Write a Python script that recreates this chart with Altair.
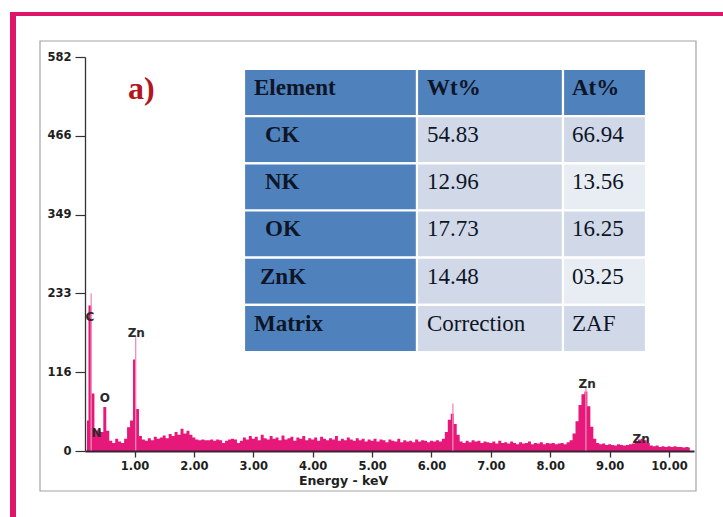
import altair as alt
import pandas as pd

# ---------------------------------------------------------------- spectrum data
# Counts per 0.05 keV channel, first channel at 0.20 keV
START_KEV = 0.20
STEP_KEV = 0.05
counts_0 = [45, 215, 85, 30, 32, 28, 65, 30, 15, 12, 18, 14, 12, 18, 35, 45]          # 0.20-0.95
counts_1 = [135, 62, 22, 17, 15, 19, 16, 21, 18, 20, 23, 19, 25, 22, 28, 24, 33, 26, 30, 24]
counts_2 = [20, 17, 16, 17, 16, 16, 17, 15, 17, 16, 12, 15, 17, 18, 17, 12, 15, 20, 17, 22]
counts_3 = [18, 21, 16, 24, 19, 17, 22, 18, 20, 16, 23, 17, 19, 21, 15, 20, 18, 22, 16, 19]
counts_4 = [17, 20, 15, 21, 18, 16, 19, 17, 22, 15, 18, 16, 20, 17, 15, 19, 16, 18, 14, 17]
counts_5 = [15, 18, 14, 17, 16, 13, 17, 15, 14, 18, 13, 16, 14, 15, 13, 17, 14, 16, 15, 13]
counts_6 = [15, 14, 16, 14, 18, 28, 46, 55, 40, 24, 14, 12, 15, 13, 16, 14, 15, 12, 14, 13]
counts_7 = [12, 14, 11, 15, 12, 13, 11, 14, 12, 10, 13, 11, 12, 14, 10, 12, 11, 13, 10, 12]
counts_8 = [11, 12, 10, 11, 12, 10, 13, 16, 26, 44, 68, 84, 88, 66, 36, 18, 12, 10, 11, 9]
counts_9 = [10, 9, 8, 10, 9, 8, 9, 10, 11, 14, 17, 18, 16, 12, 8, 7, 8, 6, 7, 6]
counts_10 = [7, 6, 7, 6, 6, 5, 6, 5]                                                      # 10.00-10.35

# narrow peak maxima drawn as thin lines above the channel envelope
spike_kev = [0.27, 1.02, 6.36, 8.60]
spike_top = [233, 168, 70, 93]

# peak identifications
peak_names = ["C", "N", "O", "Zn", "Zn", "Zn"]
peak_kev = [0.25, 0.36, 0.50, 1.03, 8.62, 9.53]
peak_y = [198, 27, 78, 174, 99, 18]

# axes
y_ticks = [0, 116, 233, 349, 466, 582]
x_ticks = [1, 2, 3, 4, 5, 6, 7, 8, 9, 10]

# ---------------------------------------------------------------- table data
table_header = ["Element", "Wt%", "At%"]
elements = ["CK", "NK", "OK", "ZnK", "Matrix"]
wt_pct = ["54.83", "12.96", "17.73", "14.48", "Correction"]
at_pct = ["66.94", "13.56", "16.25", "03.25", "ZAF"]

# ---------------------------------------------------------------- styling
PINK = "#E6187A"
SPIKE = "#F08DB8"
FRAME_PINK = "#DE1569"
BLUE = "#4F81BD"
LIGHT = "#D1D8E8"
LIGHTER = "#E8ECF3"
INK = "#0D1526"
AXIS_FONT = "DejaVu Sans"
SERIF = "Liberation Serif"

W, H = 609, 394
X_DOMAIN = [0.1665, 10.42]
Y_DOMAIN = [0, 582]

# table layout (pixel widths of the columns, text insets)
col_widths = [173, 146, 83]
name_inset = [10, 21, 21, 21, 16, 10]
value_inset = [10, 9]
TABLE_X_RANGE = [159, 561]
TABLE_Y_RANGE = [12, 295]

# ---------------------------------------------------------------- frames
blank = pd.DataFrame({"k": [0]})
outer_left = alt.Chart(blank).mark_rect(color=FRAME_PINK).encode(
    x=alt.value(-75), x2=alt.value(-69), y=alt.value(-45), y2=alt.value(470))
outer_top = alt.Chart(blank).mark_rect(color=FRAME_PINK).encode(
    x=alt.value(-75), x2=alt.value(650), y=alt.value(-45), y2=alt.value(-41))
inner_box = alt.Chart(blank).mark_rect(fillOpacity=0, stroke="#A3A3A3", strokeWidth=1.2).encode(
    x=alt.value(-45), x2=alt.value(611), y=alt.value(-16), y2=alt.value(434))

# ---------------------------------------------------------------- spectrum
all_counts = (counts_0 + counts_1 + counts_2 + counts_3 + counts_4 + counts_5
              + counts_6 + counts_7 + counts_8 + counts_9 + counts_10)
spec = pd.DataFrame({
    "kev": [round(START_KEV + i * STEP_KEV, 2) for i in range(len(all_counts))],
    "counts": all_counts,
})

xs = alt.Scale(domain=X_DOMAIN, nice=False, zero=False)
ys = alt.Scale(domain=Y_DOMAIN, nice=False)

x_axis = alt.Axis(
    values=x_ticks, format=".2f", grid=False, zindex=1,
    title="Energy - keV", titleFont=AXIS_FONT, titleFontSize=12.5, titleFontWeight="bold",
    titleColor="#1E1E1E", titleX=258, titleY=29, titleBaseline="middle", titleAlign="center",
    labelFont=AXIS_FONT, labelFontSize=11.5, labelFontWeight="bold", labelColor="#1E1E1E",
    labelPadding=3, tickSize=6, tickColor="#333333", tickWidth=1.3,
    domainColor="#3A2033", domainWidth=1.8,
)
y_axis = alt.Axis(
    values=y_ticks, format="d", grid=False, title=None, zindex=1,
    labelFont=AXIS_FONT, labelFontSize=11.5, labelFontWeight="bold", labelColor="#1E1E1E",
    labelPadding=4, tickSize=10, tickColor="#333333", tickWidth=1.2,
    domainColor="#333333", domainWidth=1.3,
)

area = alt.Chart(spec).mark_area(interpolate="step", color=PINK).encode(
    x=alt.X("kev:Q", scale=xs, axis=x_axis),
    y=alt.Y("counts:Q", scale=ys, axis=y_axis),
)

spikes = alt.Chart(pd.DataFrame({"kev": spike_kev, "top": spike_top})).mark_rule(
    color=SPIKE, strokeWidth=1.3).encode(
    x=alt.X("kev:Q", scale=xs, axis=None),
    y=alt.Y("top:Q", scale=ys, axis=None),
    y2=alt.datum(0),
)

peak_labels = alt.Chart(pd.DataFrame({"name": peak_names, "kev": peak_kev, "y": peak_y})).mark_text(
    font=AXIS_FONT, fontSize=12, fontWeight="bold", color="#2A2A2A", baseline="middle").encode(
    x=alt.X("kev:Q", scale=xs, axis=None),
    y=alt.Y("y:Q", scale=ys, axis=None),
    text="name:N",
)

# ---------------------------------------------------------------- table
edges = [0]
for w in col_widths:
    edges.append(edges[-1] + w)

rows = [table_header] + [[e, w, a] for e, w, a in zip(elements, wt_pct, at_pct)]
cells = []
for r, row in enumerate(rows):
    for c, txt in enumerate(row):
        if r == 0 or c == 0:
            fill = BLUE
        elif c == 1:
            fill = LIGHT
        else:
            fill = LIGHTER if r % 2 == 0 else LIGHT
        inset = name_inset[r] if c == 0 else value_inset[c - 1]
        cells.append({
            "x0": edges[c], "x1": edges[c + 1], "y0": r, "y1": r + 1,
            "tx": edges[c] + inset, "ty": r + 0.40,
            "text": txt, "fill": fill, "bold": (r == 0 or c == 0),
        })
cells = pd.DataFrame(cells)

tx_scale = alt.Scale(domain=[0, edges[-1]], range=TABLE_X_RANGE, nice=False, zero=False)
ty_scale = alt.Scale(domain=[0, len(rows)], range=TABLE_Y_RANGE, nice=False, zero=False)

table_rects = alt.Chart(cells).mark_rect(stroke="white", strokeWidth=2.2).encode(
    x=alt.X("x0:Q", scale=tx_scale, axis=None),
    x2="x1:Q",
    y=alt.Y("y0:Q", scale=ty_scale, axis=None),
    y2="y1:Q",
    fill=alt.Fill("fill:N", scale=None),
)

def table_text(bold):
    return alt.Chart(cells[cells["bold"] == bold]).mark_text(
        font=SERIF, fontSize=23, fontWeight="bold" if bold else "normal",
        color=INK, align="left", baseline="middle").encode(
        x=alt.X("tx:Q", scale=tx_scale, axis=None),
        y=alt.Y("ty:Q", scale=ty_scale, axis=None),
        text="text:N",
    )

panel_tag = alt.Chart(blank).mark_text(
    text="a)", font=SERIF, fontSize=32, fontWeight="bold", color="#B3161E",
    align="left", baseline="alphabetic").encode(x=alt.value(43), y=alt.value(42))

chart = alt.layer(
    outer_left, outer_top, inner_box,
    area, spikes, peak_labels,
    table_rects, table_text(True), table_text(False),
    panel_tag,
).resolve_scale(
    x="independent", y="independent", fill="independent"
).properties(
    width=W, height=H,
    padding={"left": 85, "top": 57, "right": 29, "bottom": 66},
    autosize=alt.AutoSizeParams(type="none"),
    background="white",
).configure_view(strokeWidth=0)

chart.save("out.html", embed_options={"renderer": "svg", "actions": False})
